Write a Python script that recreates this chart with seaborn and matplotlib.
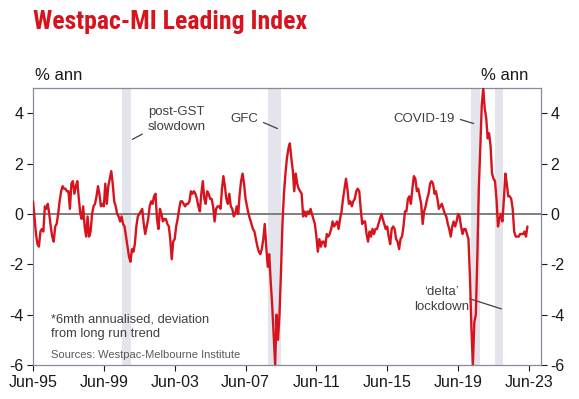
import numpy as np
import pandas as pd
import seaborn as sns
import matplotlib
matplotlib.use("Agg")
import matplotlib.pyplot as plt
import matplotlib.dates as mdates

# -----------------------------------
# Data: monthly readings, Jun-95 onward (% ann, deviation from trend)
# -----------------------------------
start = "1995-06-01"
index_values = [
    0.5, -0.1, -0.8, -1.2, -1.3, -0.7, -0.6, -0.7, 0.3, 0.2, 0.4, 0.0,
    -0.5, -0.9, -1.1, -0.5, -0.4, 0.0, 0.5, 0.9, 1.1, 1.0, 1.0, 0.9,
    0.9, 0.2, 1.2, 1.3, 0.8, 1.1, 1.3, 0.6, 0.0, -0.2, 0.3, -0.5,
    -0.9, -0.1, -0.9, -0.7, 0.0, 0.3, 0.4, 0.7, 1.1, 0.8, 0.3, 0.4,
    0.3, 1.2, 0.4, 1.1, 1.4, 1.7, 1.2, 0.5, 0.3, 0.0, -0.1, -0.3,
    -0.1, -0.4, -0.5, -0.9, -1.3, -1.7, -1.9, -1.4, -1.5, -1.2, -0.5, -0.1,
    0.0, 0.1, 0.2, -0.4, -0.8, -0.5, -0.2, 0.3, 0.5, 0.4, 0.7, 0.8,
    -0.2, -0.6, 0.2, 0.0, -0.3, -0.2, -0.2, -0.4, -0.5, -1.0, -1.8, -1.1,
    -1.0, -0.5, -0.2, 0.2, 0.5, 0.5, 0.4, 0.3, 0.4, 0.4, 0.5, 0.9,
    0.8, 0.9, 0.8, 0.6, 0.3, 0.1, 0.8, 1.3, 0.6, 0.4, 0.9, 0.8,
    0.6, 0.6, 0.3, -0.3, 0.2, 0.3, 0.3, 0.2, 1.0, 1.5, 1.1, 0.6,
    0.4, 0.8, 0.3, 0.2, -0.1, 0.0, 0.3, 0.0, 0.8, 1.3, 1.6, 1.2,
    0.6, 0.3, 0.0, -0.2, -0.4, -0.6, -0.7, -1.0, -1.3, -1.5, -1.6, -1.4,
    -1.0, -0.4, -1.3, -2.1, -1.6, -2.7, -3.6, -4.8, -6.0, -4.0, -5.0, -4.0,
    -2.3, -0.4, 0.8, 1.6, 2.2, 2.6, 2.8, 2.2, 1.7, 0.9, 1.6, 1.2,
    1.0, 0.9, 0.8, -0.1, 0.1, -0.1, 0.1, 0.0, 0.2, 0.0, -0.2, -0.4,
    -0.9, -1.5, -1.0, -1.3, -1.1, -1.1, -1.3, -0.8, -0.9, -0.8, -0.6, -0.3,
    -0.5, -0.4, -0.3, -0.6, -0.2, 0.1, 0.6, 1.0, 1.4, 1.0, 0.4, 0.5,
    0.3, 0.5, 0.6, 0.9, 1.0, 0.9, 0.2, -0.4, -0.3, -0.3, -0.8, -1.1,
    -0.7, -0.9, -0.6, -0.8, -0.6, -0.6, -0.4, -0.2, 0.0, -0.2, -0.4, -0.6,
    -0.5, -0.9, -1.2, -0.6, -0.5, -0.6, -1.0, -1.1, -1.4, -1.0, -0.9, -0.5,
    0.1, 0.1, 0.6, 0.7, 0.4, 1.0, 1.5, 1.4, 0.9, 1.0, 0.7, 0.4,
    -0.4, 0.1, 0.3, 0.6, 0.8, 1.2, 1.3, 1.2, 0.8, 0.9, 0.6, 0.2,
    0.3, 0.4, 0.2, 0.0, -0.1, -0.4, -0.6, -0.9, -0.5, -0.3, -0.5, -0.3,
    0.0, -0.1, -0.5, -0.8, -0.6, -0.6, -0.8, -1.0, -2.5, -4.5, -6.0, -4.3,
    -4.0, -1.8, 1.0, 2.6, 4.3, 5.0, 4.2, 3.8, 3.0, 3.2, 2.7, 1.6,
    1.4, 1.3, 0.6, -0.5, -0.2, 0.0, -0.3, 0.6, 1.6, 1.2, 0.7, 0.7,
    0.6, 0.2, -0.7, -0.9, -0.9, -0.9, -0.8, -0.8, -0.8, -0.7, -0.9, -0.5,
]
dates = pd.date_range(start, periods=len(index_values), freq="MS")

# shaded episodes
shade_starts = ["2000-06-15", "2008-09-01", "2020-03-01", "2021-07-01"]
shade_ends = ["2000-12-15", "2009-06-10", "2020-09-01", "2021-12-10"]

tick_dates = ["1995-06-01", "1999-06-01", "2003-06-01", "2007-06-01",
              "2011-06-01", "2015-06-01", "2019-06-01", "2023-06-01"]
y_ticks = [-6, -4, -2, 0, 2, 4]

df = pd.DataFrame({"date": dates, "value": index_values})

# -----------------------------------
# Style
# -----------------------------------
sns.set_style("white")
plt.rcParams["font.family"] = ["Liberation Sans", "DejaVu Sans"]
plt.rcParams["axes.unicode_minus"] = False

red = "#D7141E"
grey_txt = "#404040"

fig = plt.figure(figsize=(5.79, 3.99), dpi=100)
ax = fig.add_axes([33 / 579, 1 - 365 / 399, (541 - 33) / 579, (365 - 88) / 399])

for s, e in zip(shade_starts, shade_ends):
    ax.axvspan(pd.Timestamp(s), pd.Timestamp(e), color="#E4E4EC", lw=0, zorder=0)

ax.axhline(0, color="#7F7F7F", lw=1.4, zorder=1)
sns.lineplot(data=df, x="date", y="value", color=red, lw=1.7, ax=ax, zorder=3)

ax.set_xlim(pd.Timestamp("1995-06-01"), pd.Timestamp("2024-02-05"))
ax.set_ylim(-6, 5)
ax.set_xticks([pd.Timestamp(d) for d in tick_dates])
ax.xaxis.set_major_formatter(mdates.DateFormatter("%b-%y"))
ax.set_yticks(y_ticks)
ax.set_xlabel("")
ax.set_ylabel("")

ax.tick_params(axis="both", labelsize=11.5, colors="#1A1A1A", length=4,
               width=0.8, direction="out", pad=3)
ax.tick_params(axis="y", left=True, right=True, labelleft=True, labelright=True)
ax.tick_params(axis="x", bottom=True)
for sp in ax.spines.values():
    sp.set_color("#8A8A9E")
    sp.set_linewidth(0.9)

# -----------------------------------
# Text
# -----------------------------------
fig.text(33 / 579, 1 - 29.5 / 399, "Westpac-MI Leading Index", color=red,
         fontsize=18.5, fontweight="bold", va="baseline", ha="left",
         family=["Liberation Sans Narrow", "Roboto Condensed", "Liberation Sans"])
fig.text(35 / 579, 1 - 76 / 399, "% ann", fontsize=12, ha="left", va="center", color="#1A1A1A")
fig.text(528 / 579, 1 - 76 / 399, "% ann", fontsize=12, ha="right", va="center", color="#1A1A1A")

t0 = mdates.date2num(pd.Timestamp(start))


def mx(m):
    return t0 + m * 30.44


ax.text(mx(78), 3.76, "post-GST\nslowdown", fontsize=9.5, color=grey_txt,
        ha="left", va="center", linespacing=1.35)
ax.plot([mx(67.3), mx(74.1)], [2.96, 3.17], color=grey_txt, lw=0.9)
ax.text(mx(143.1), 3.76, "GFC", fontsize=9.5, color=grey_txt, ha="center", va="center")
ax.plot([mx(156.1), mx(165.6)], [3.63, 3.39], color=grey_txt, lw=0.9)
ax.text(mx(264.7), 3.75, "COVID-19", fontsize=9.5, color=grey_txt, ha="center", va="center")
ax.plot([mx(289.5), mx(298.5)], [3.75, 3.59], color=grey_txt, lw=0.9)
ax.text(mx(276.6), -3.39, "\u2018delta\u2019\nlockdown", fontsize=9.5, color=grey_txt,
        ha="center", va="center", linespacing=1.35)
ax.plot([mx(295.8), mx(317.3)], [-3.37, -3.77], color=grey_txt, lw=0.9)

ax.text(mx(12.0), -4.48, "*6mth annualised, deviation\nfrom long run trend", fontsize=9.3,
        color=grey_txt, ha="left", va="center", linespacing=1.35)
ax.text(mx(12.0), -5.61, "Sources: Westpac-Melbourne Institute", fontsize=8,
        color="#595959", ha="left", va="center")

fig.savefig("out.png", dpi=100)
